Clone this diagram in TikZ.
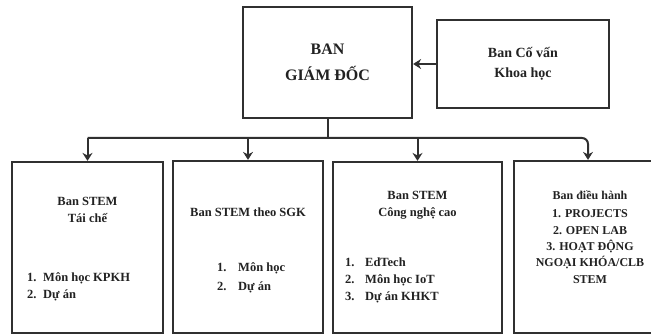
\documentclass[tikz,border=0pt]{standalone}
\usepackage{fontspec}
\setmainfont{Liberation Serif}
\usetikzlibrary{arrows.meta,positioning}
\definecolor{orgline}{RGB}{48,48,48}
\definecolor{orgtext}{RGB}{34,34,34}
\newcommand{\lnum}[2][18pt]{\makebox[#1][l]{#2}}

\begin{document}
\begin{tikzpicture}[
  x=1pt, y=-1pt,
  every node/.style={text=orgtext},
  unit/.style={draw=orgline, line width=2.2pt, fill=white,
               inner sep=0pt, align=center},
  txt/.style={font=\fontsize{12.5}{16.5}\selectfont\bfseries,
              inner sep=0pt, align=center},
  lst/.style={font=\fontsize{12.5}{17}\selectfont\bfseries,
              inner sep=0pt, align=left, anchor=west},
  conn/.style={draw=orgline, line width=2pt},
  arrow/.style={conn, -{Stealth[length=8pt, width=10pt]}},
]

\useasboundingbox (0,0) rectangle (651,336);

%% Top level
\node[unit, minimum width=169pt, minimum height=111pt,
      font=\fontsize{16}{26}\selectfont\bfseries] (gd) at (327.5, 62.5)
  {BAN\\GIÁM ĐỐC};
\node[unit, minimum width=172pt, minimum height=88pt,
      font=\fontsize{14}{20}\selectfont\bfseries] (cv) at (523, 64)
  {Ban Cố vấn\\Khoa học};

%% Boards
\node[unit, minimum width=151pt, minimum height=171pt] (b1) at (87.5, 247.5) {};
\node[unit, minimum width=150pt, minimum height=172pt] (b2) at (248, 247) {};
\node[unit, minimum width=169pt, minimum height=171pt] (b3) at (417.5, 247.5) {};
\node[unit, minimum width=154pt, minimum height=172pt] (b4) at (591, 247) {};

%% Texts in the boards
\node[txt] (t1) at (87.5, 210) {Ban STEM\\Tái chế};
\node[lst] (l1) at (27, 286.5)
  {\lnum[16pt]{1.}Môn học KPKH\\\lnum[16pt]{2.}Dự án};

\node[txt] (t2) at (248, 212) {Ban STEM theo SGK};
\node[lst, font=\fontsize{12.5}{19}\selectfont\bfseries] (l2) at (217, 277.5)
  {\lnum[21pt]{1.}Môn học\\\lnum[21pt]{2.}Dự án};

\node[txt] (t3) at (417.5, 205) {Ban STEM\\Công nghệ cao};
\node[lst] (l3) at (345, 280)
  {\lnum[20pt]{1.}EdTech\\\lnum[20pt]{2.}Môn học IoT\\\lnum[20pt]{3.}Dự án KHKT};

\node[txt, font=\fontsize{12}{16.3}\selectfont\bfseries] (t4) at (590, 237)
  {Ban điều hành\\[2pt]1. PROJECTS\\2. OPEN LAB\\3. HOẠT ĐỘNG\\NGOẠI KHÓA/CLB\\STEM};

%% Connectors
\coordinate (busL) at (87.5, 138);
\coordinate (busR) at (588, 138);

\draw[arrow] (cv.west) -- (cv.west -| gd.east);
\draw[conn] (gd.south) -- (gd.south |- busL);
\draw[arrow, rounded corners=6pt] (busL) -- (busR) -- (busR |- b4.north);
\draw[arrow] (busL) -- (b1.north);
\draw[arrow] (b2.north |- busL) -- (b2.north);
\draw[arrow] (b3.north |- busL) -- (b3.north);

\end{tikzpicture}
\end{document}
